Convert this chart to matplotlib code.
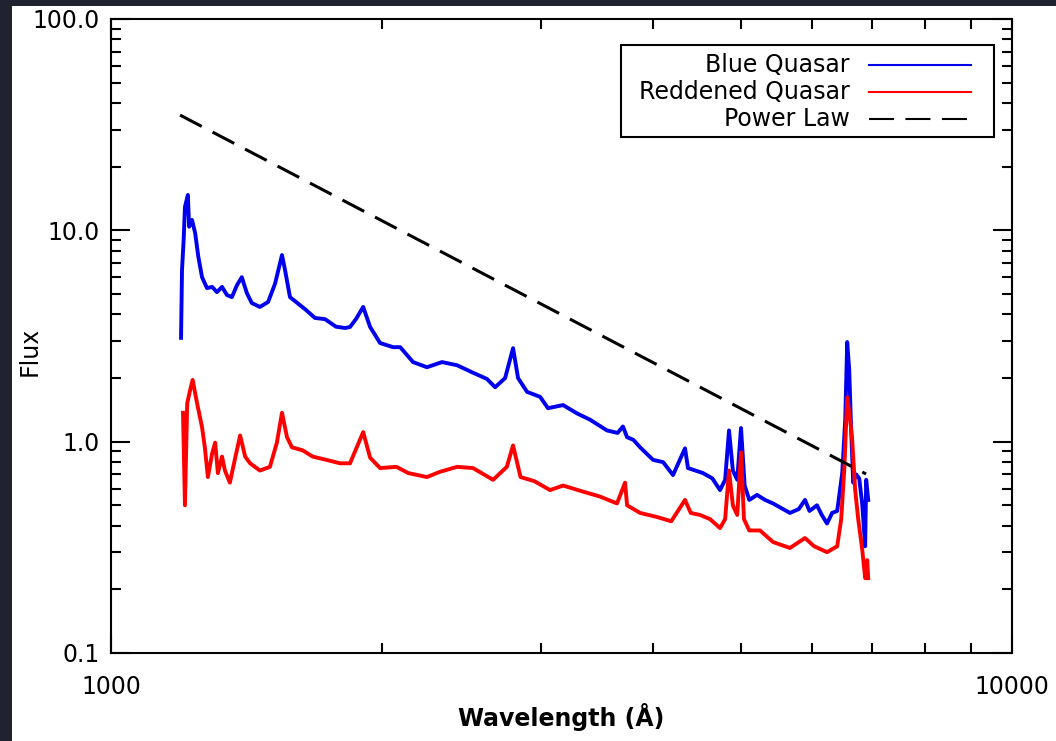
import matplotlib.pyplot as plt
from matplotlib.lines import Line2D
from matplotlib.patches import Rectangle
from matplotlib.ticker import NullFormatter

# blue (unreddened) composite quasar spectrum
blue_wave = [1196, 1199, 1204, 1208, 1217, 1221, 1230, 1240, 1250, 1262,
             1278, 1295, 1311, 1328, 1345, 1362, 1380, 1397, 1415, 1433,
             1463, 1494, 1521, 1548, 1560, 1580, 1610, 1646, 1684, 1728,
             1777, 1820, 1842, 1870, 1905, 1939, 1989, 2056, 2094, 2164,
             2242, 2330, 2421, 2522, 2614, 2669, 2738, 2794, 2830, 2896,
             2994, 3055, 3175, 3291, 3402, 3552, 3650, 3700, 3739, 3800,
             3866, 3996, 4100, 4205, 4336, 4369, 4540, 4650, 4742, 4804,
             4852, 4900, 4955, 5003, 5050, 5110, 5212, 5320, 5430, 5669,
             5800, 5892, 5960, 6075, 6150, 6233, 6315, 6397, 6480, 6530,
             6563, 6597, 6630, 6664, 6715, 6767, 6819, 6871, 6889, 6925]
blue_flux = [3.1, 6.5, 9.0, 12.9, 14.7, 10.4, 11.2, 9.7, 7.5, 6.0,
             5.33, 5.4, 5.1, 5.4, 4.94, 4.83, 5.51, 6.0, 5.05, 4.53,
             4.34, 4.58, 5.6, 7.64, 6.5, 4.83, 4.53, 4.2, 3.85, 3.8,
             3.5, 3.45, 3.49, 3.8, 4.34, 3.49, 2.93, 2.8, 2.8, 2.38,
             2.25, 2.38, 2.30, 2.12, 1.98, 1.81, 2.0, 2.77, 2.0, 1.72,
             1.63, 1.44, 1.49, 1.36, 1.27, 1.13, 1.10, 1.18, 1.05, 1.02,
             0.94, 0.82, 0.80, 0.695, 0.93, 0.75, 0.71, 0.67, 0.59, 0.66,
             1.13, 0.73, 0.66, 1.16, 0.62, 0.53, 0.56, 0.53, 0.51, 0.46,
             0.48, 0.53, 0.47, 0.50, 0.45, 0.41, 0.46, 0.47, 0.71, 1.27,
             2.96, 2.18, 1.13, 0.64, 0.70, 0.67, 0.51, 0.32, 0.66, 0.53]

# reddened quasar spectrum
red_wave = [1202, 1208, 1215, 1224, 1232, 1246, 1262, 1271, 1281, 1295,
            1305, 1314, 1328, 1338, 1355, 1372, 1391, 1409, 1427, 1463,
            1501, 1528, 1548, 1568, 1588, 1632, 1674, 1734, 1796, 1842,
            1905, 1939, 1989, 2074, 2138, 2242, 2318, 2421, 2522, 2655,
            2750, 2794, 2848, 2951, 3071, 3175, 3342, 3489, 3644, 3720,
            3739, 3866, 4037, 4186, 4336, 4400, 4505, 4622, 4742, 4804,
            4852, 4900, 4955, 5003, 5041, 5110, 5252, 5430, 5669, 5892,
            6030, 6233, 6397, 6463, 6513, 6563, 6613, 6647, 6698, 6750,
            6819, 6871, 6907, 6925]
red_flux = [1.37, 0.50, 1.52, 1.75, 1.96, 1.52, 1.17, 0.94, 0.68, 0.88,
            0.99, 0.71, 0.85, 0.73, 0.64, 0.82, 1.07, 0.85, 0.79, 0.73,
            0.76, 0.99, 1.37, 1.05, 0.94, 0.91, 0.85, 0.82, 0.79, 0.79,
            1.11, 0.84, 0.75, 0.76, 0.71, 0.68, 0.72, 0.76, 0.75, 0.66,
            0.76, 0.96, 0.68, 0.65, 0.59, 0.62, 0.58, 0.55, 0.51, 0.64,
            0.50, 0.46, 0.44, 0.42, 0.53, 0.46, 0.45, 0.43, 0.39, 0.43,
            0.73, 0.50, 0.45, 0.89, 0.43, 0.38, 0.38, 0.335, 0.314, 0.35,
            0.32, 0.30, 0.32, 0.43, 0.73, 1.62, 1.27, 1.02, 0.59, 0.43,
            0.31, 0.226, 0.275, 0.226]

# power law end points
pl_wave = [1193, 6887]
pl_flux = [35.1, 0.703]

legend_labels = ['Blue Quasar', 'Reddened Quasar', 'Power Law']

fig = plt.figure(figsize=(10.56, 7.41), dpi=100)
fig.patch.set_facecolor('#20222f')
fig.patches.append(Rectangle((12 / 1056, 0), 1 - 12 / 1056, 735 / 741,
                             transform=fig.transFigure, facecolor='white',
                             edgecolor='none', zorder=-10))

ax = fig.add_axes([111 / 1056, 88 / 741, 901 / 1056, 634 / 741])
ax.plot(blue_wave, blue_flux, color='#0000ee', lw=2.8)
ax.plot(red_wave, red_flux, color='#ff0000', lw=2.8)
ax.plot(pl_wave, pl_flux, color='black', lw=2.2, dashes=(8, 4))

ax.set_xscale('log')
ax.set_yscale('log')
ax.set_xlim(1000, 10000)
ax.set_ylim(0.1, 100)

ax.set_xticks([1000, 10000], labels=['1000', '10000'])
ax.set_xticks([2000, 3000, 4000, 5000, 6000, 7000, 8000, 9000], minor=True)
ax.xaxis.set_minor_formatter(NullFormatter())
yminor = [m * d for d in (0.1, 1, 10) for m in range(2, 10)]
ax.set_yticks([0.1, 1, 10, 100], labels=['0.1', '1.0', '10.0', '100.0'])
ax.set_yticks(yminor, minor=True)
ax.yaxis.set_minor_formatter(NullFormatter())

ax.tick_params(which='both', direction='in', top=True, right=True, width=1.5,
               labelsize=17, color='black')
ax.tick_params(which='major', length=14)
ax.tick_params(which='minor', length=7)
ax.tick_params(axis='x', pad=16)
ax.tick_params(axis='y', pad=8)
for s in ax.spines.values():
    s.set_linewidth(1.5)

ax.set_xlabel('Wavelength (Å)', fontsize=17, fontweight='bold', labelpad=3)
ax.set_ylabel('Flux', fontsize=17)
ax.yaxis.set_label_coords(-0.077, 0.475)

# legend box, drawn by hand so the labels are right-aligned
ax.add_patch(Rectangle((0.566, 0.814), 0.414, 0.145, transform=ax.transAxes,
                       facecolor='white', edgecolor='black', lw=1.5, zorder=5))
rows = [0.927, 0.885, 0.842]
styles = [dict(color='#0000ee'), dict(color='#ff0000'),
          dict(color='black', dashes=(12, 5.5))]
for lab, yy, st in zip(legend_labels, rows, styles):
    ax.text(0.820, yy, lab, transform=ax.transAxes, ha='right', va='center',
            fontsize=17, zorder=6)
    ax.add_line(Line2D([0.841, 0.954], [yy, yy], transform=ax.transAxes,
                       lw=1.5, zorder=6, **st))

fig.savefig('out.png', dpi=100, facecolor=fig.get_facecolor())
